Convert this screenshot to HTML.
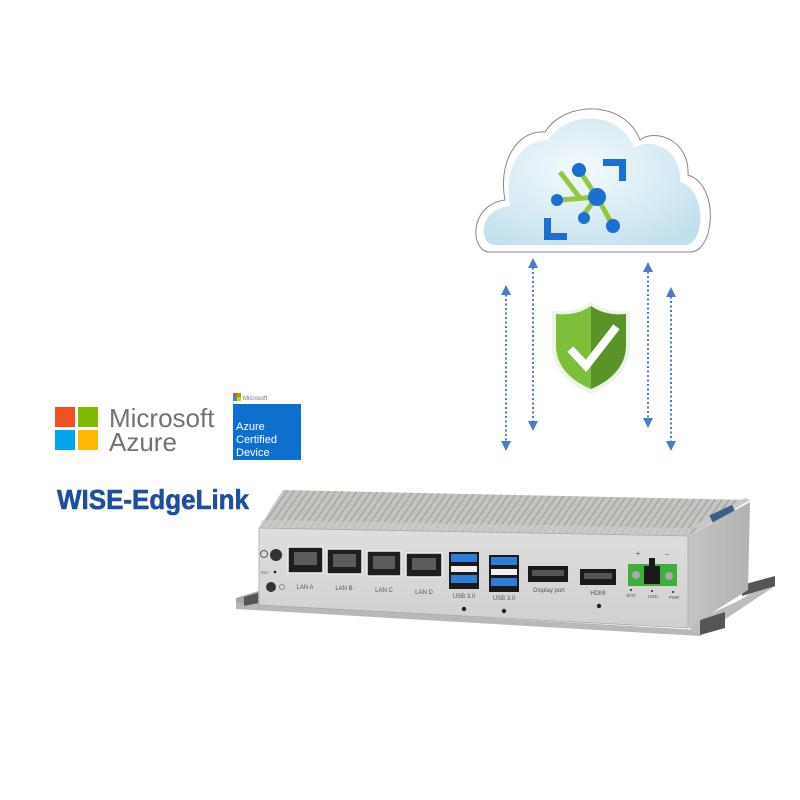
<!DOCTYPE html>
<html><head><meta charset="utf-8"><style>
html,body{margin:0;padding:0;background:#fff;width:800px;height:800px;overflow:hidden}
svg{display:block}
text{font-family:"Liberation Sans",sans-serif}
</style></head><body>
<svg width="800" height="800" viewBox="0 0 800 800" xmlns="http://www.w3.org/2000/svg">
<defs>
<radialGradient id="cg" cx="0.45" cy="0.4" r="0.7">
<stop offset="0" stop-color="#f4fafd"/><stop offset="0.6" stop-color="#d6ebf4"/><stop offset="1" stop-color="#c2dfec"/>
</radialGradient>
<linearGradient id="front" x1="0" y1="0" x2="0" y2="1"><stop offset="0" stop-color="#dededc"/><stop offset="1" stop-color="#d0d0ce"/></linearGradient>
<linearGradient id="side" x1="0" y1="0" x2="1" y2="0"><stop offset="0" stop-color="#c4c4c2"/><stop offset="1" stop-color="#b2b2b0"/></linearGradient>
<pattern id="fins" width="7" height="10" patternUnits="userSpaceOnUse" patternTransform="skewX(-35)"><rect width="7" height="10" fill="#c4c4c1"/><rect width="2" height="10" fill="#a8a8a5"/></pattern>
<marker id="ah" viewBox="0 0 10 10" refX="5" refY="5" markerWidth="5" markerHeight="5" orient="auto-start-reverse"><path d="M0,0 L10,5 L0,10 z" fill="#4a7cc7"/></marker>
</defs>

<path d="M490,252 C470,252 468,205 505,200 C498,165 515,130 545,132 C565,100 625,100 640,140 C655,128 690,140 688,175 C720,185 715,252 690,252 Z" fill="#fff" stroke="#888" stroke-width="1"/>
<path d="M495,245 C478,245 478,208 510,206 C503,170 520,140 548,140 C568,110 620,110 634,148 C650,137 682,148 680,182 C708,190 705,245 685,245 Z" fill="url(#cg)"/>
<g>
<line x1="580" y1="198" x2="560" y2="172" stroke="#93c83e" stroke-width="5"/>
<line x1="597" y1="197" x2="612" y2="224" stroke="#93c83e" stroke-width="5"/>
<line x1="597" y1="197" x2="584" y2="214" stroke="#93c83e" stroke-width="5"/>
<line x1="597" y1="197" x2="560" y2="200" stroke="#93c83e" stroke-width="5"/>
<line x1="597" y1="197" x2="579" y2="170" stroke="#93c83e" stroke-width="5"/>
<circle cx="597" cy="197" r="9" fill="#1b6ed2"/>
<circle cx="579" cy="170" r="7" fill="#1b6ed2"/>
<circle cx="557" cy="200" r="6" fill="#1b6ed2"/>
<circle cx="584" cy="218" r="6" fill="#1b6ed2"/>
<circle cx="613" cy="226" r="7" fill="#1b6ed2"/>
<path d="M603,159 h23 v22 h-7 v-15 h-16 z" fill="#1b6ed2"/>
<path d="M544,218 h7 v15 h16 v7 h-23 z" fill="#1b6ed2"/>
</g>

<g stroke="#4a7cc7" stroke-width="2" stroke-dasharray="2,2.5" fill="none" marker-start="url(#ah)" marker-end="url(#ah)">
<line x1="506" y1="290" x2="506" y2="446"/>
<line x1="533" y1="263" x2="533" y2="426"/>
<line x1="648" y1="267" x2="648" y2="423"/>
<line x1="671" y1="292" x2="671" y2="446"/>
</g>

<path d="M591,302 C604,311 616,312 630,311 L630,345 C630,368 614,384 591,394 C568,384 552,368 552,345 L552,311 C566,312 578,311 591,302 Z" fill="#eef3e8"/>
<path d="M591,306 C603,314 614,315 626,314 L626,345 C626,366 612,380 591,389 Z" fill="#5a9328"/>
<path d="M591,306 C579,314 568,315 556,314 L556,345 C556,366 570,380 591,389 Z" fill="#7dbf3a"/>
<path d="M573,352 L586,366 L614,330" stroke="#fff" stroke-width="8" fill="none" stroke-linecap="square"/>

<rect x="55" y="407" width="20" height="20" fill="#f25022"/>
<rect x="78" y="407" width="20" height="20" fill="#7fba00"/>
<rect x="55" y="430" width="20" height="20" fill="#00a4ef"/>
<rect x="78" y="430" width="20" height="20" fill="#ffb900"/>
<text x="109" y="427" font-size="26" fill="#737373">Microsoft</text>
<text x="109" y="451" font-size="26" fill="#737373">Azure</text>
<rect x="233" y="393" width="4" height="4" fill="#f25022"/><rect x="237" y="393" width="4" height="4" fill="#7fba00"/>
<rect x="233" y="397" width="4" height="4" fill="#00a4ef"/><rect x="237" y="397" width="4" height="4" fill="#ffb900"/>
<text x="243" y="400" font-size="6" fill="#737373">Microsoft</text>
<rect x="233" y="404" width="68" height="56" fill="#0f6fce"/>
<text x="236" y="430" font-size="11" fill="#fff">Azure</text>
<text x="236" y="443" font-size="11" fill="#fff">Certified</text>
<text x="236" y="456" font-size="11" fill="#fff">Device</text>
<text x="57" y="509" font-size="28" font-weight="bold" fill="#1d4f9e" textLength="192" lengthAdjust="spacingAndGlyphs" stroke="#1d4f9e" stroke-width="0.6">WISE-EdgeLink</text>

<path d="M236,598 L262,590 L262,608 L236,605 Z" fill="#a5a5a3"/>
<path d="M236,603 L700,630 L700,636 L236,609 Z" fill="#b8b8b6"/>
<path d="M686,625 L740,600 L775,578 L775,586 L700,636 Z" fill="#bdbdbb"/>
<path d="M742,585 L775,576 L775,586 L742,596 Z" fill="#555"/>
<path d="M700,620 L725,612 L725,628 L700,635 Z" fill="#555"/>
<path d="M244,597 L258,593 L258,603 L244,606 Z" fill="#555"/>
<path d="M259,528 L283,490 L750,500 L688,536 Z" fill="url(#fins)"/>
<path d="M259,528 L688,536 L690,528 L262,520 Z" fill="#cfcfcc" opacity="0.6"/>
<path d="M700,528 L750,500 L745,498 L690,528 Z" fill="#c8c8c6"/>
<rect x="710" y="510" width="25" height="8" fill="#3a5f88" transform="rotate(-25 722 514)"/>
<path d="M688,536 L750,502 L748,590 L688,628 Z" fill="url(#side)"/>
<path d="M259,528 L688,536 L688,628 L259,605 Z" fill="url(#front)" stroke="#a8a8a6" stroke-width="0.8"/>
<circle cx="276" cy="555" r="6" fill="#333"/>
<circle cx="264" cy="554" r="3.5" fill="none" stroke="#555" stroke-width="1"/>
<text x="261" y="574" font-size="4" fill="#555">RST</text>
<circle cx="275" cy="572" r="1.3" fill="#222"/>
<circle cx="271" cy="587" r="5" fill="#333"/>
<circle cx="282" cy="587" r="2.5" fill="none" stroke="#777" stroke-width="0.8"/>
<g fill="#1e1e1e" stroke="#eee" stroke-width="1.5">
<rect x="288" y="547" width="35" height="26"/>
<rect x="327" y="549" width="35" height="25"/>
<rect x="367" y="551" width="34" height="25"/>
<rect x="406" y="553" width="36" height="24"/>
</g>
<g fill="#5c5c5c"><rect x="294" y="552" width="23" height="13"/><rect x="333" y="554" width="23" height="13"/><rect x="373" y="556" width="22" height="13"/><rect x="412" y="558" width="24" height="12"/></g>
<g font-size="6" fill="#555" text-anchor="middle">
<text x="305" y="589">LAN A</text><text x="344" y="590">LAN B</text><text x="384" y="592">LAN C</text><text x="424" y="594">LAN D</text>
<text x="464" y="598">USB 3.0</text><text x="504" y="600">USB 3.0</text><text x="549" y="592">Display port</text><text x="598" y="595">HDMI</text>
<text x="631" y="597" font-size="4.5">BTR</text><text x="653" y="598" font-size="4.5">HDD</text><text x="674" y="599" font-size="4.5">PWR</text>
<text x="638" y="556" font-size="8">+</text><text x="667" y="557" font-size="8">−</text>
</g>
<rect x="449" y="552" width="30" height="37" fill="#1a1a1a"/>
<rect x="451" y="554" width="26" height="8" fill="#2f7dd8"/><rect x="451" y="566" width="26" height="6" fill="#f0f0f0"/><rect x="451" y="575" width="26" height="8" fill="#2f7dd8"/>
<rect x="489" y="555" width="30" height="37" fill="#1a1a1a"/>
<rect x="491" y="557" width="26" height="8" fill="#2f7dd8"/><rect x="491" y="569" width="26" height="6" fill="#f0f0f0"/><rect x="491" y="578" width="26" height="8" fill="#2f7dd8"/>
<rect x="528" y="566" width="40" height="16" fill="#1a1a1a"/><rect x="532" y="570" width="32" height="6" fill="#555"/>
<rect x="580" y="569" width="36" height="16" fill="#1a1a1a"/><rect x="584" y="573" width="28" height="6" fill="#555"/>
<circle cx="464" cy="609" r="2.2" fill="#222"/><circle cx="504" cy="611" r="2.2" fill="#222"/><circle cx="599" cy="606" r="2.2" fill="#222"/>
<rect x="628" y="564" width="49" height="22" fill="#3fae3f"/>
<circle cx="636" cy="575" r="4" fill="#aaa"/><circle cx="669" cy="576" r="4" fill="#aaa"/>
<rect x="644" y="566" width="16" height="18" fill="#1a1a1a"/><rect x="649" y="558" width="6" height="8" fill="#1a1a1a"/>
<circle cx="631" cy="590" r="1" fill="#222"/><circle cx="652" cy="591" r="1" fill="#222"/><circle cx="673" cy="592" r="1" fill="#222"/>
</svg>
</body></html>
